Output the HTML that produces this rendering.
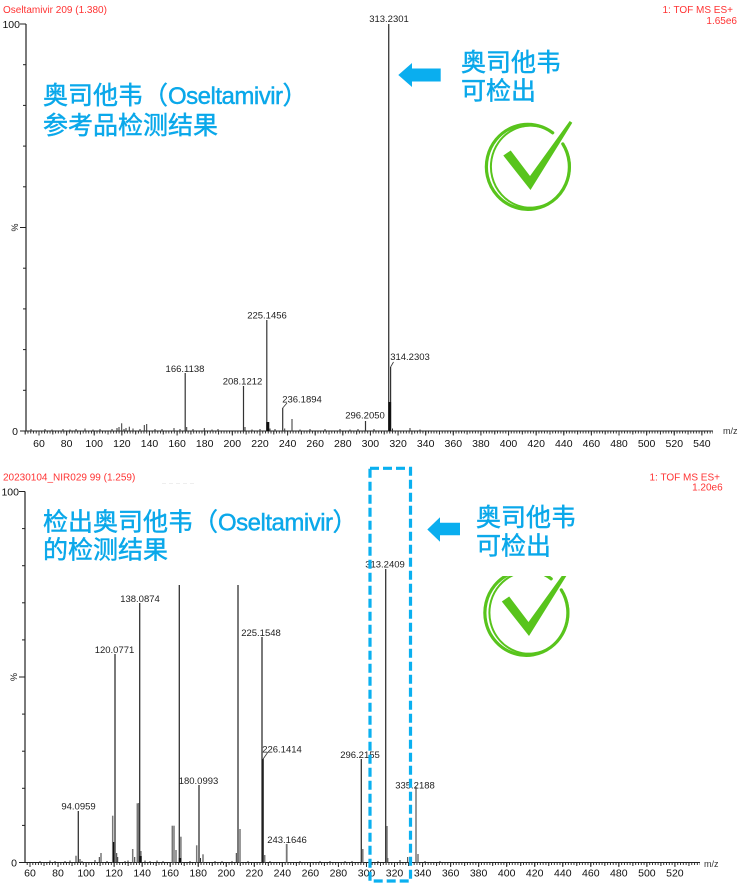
<!DOCTYPE html>
<html><head><meta charset="utf-8">
<style>html,body{margin:0;padding:0;background:#fff}svg{display:block}</style>
</head><body>
<svg width="739" height="883" viewBox="0 0 739 883" xmlns="http://www.w3.org/2000/svg">
<rect width="739" height="883" fill="#fff"/>
<defs>
<clipPath id="clipB"><rect x="0" y="576" width="739" height="307"/></clipPath>
</defs>

<!-- ================= TOP CHART ================= -->
<g font-family="'Liberation Sans', Arial, sans-serif">
<text x="3" y="13" font-size="10" fill="#f33">Oseltamivir 209 (1.380)</text>
<text x="733" y="13" font-size="10" fill="#f33" text-anchor="end">1: TOF MS ES+</text>
<text x="737" y="24" font-size="10" fill="#f33" text-anchor="end">1.65e6</text>

<!-- y axis -->
<line x1="26" y1="24" x2="26" y2="431.5" stroke="#222" stroke-width="1.2"/>
<g stroke="#222" stroke-width="1">
<line x1="20" y1="24" x2="26" y2="24"/>
<line x1="23" y1="64.7" x2="26" y2="64.7"/>
<line x1="23" y1="105.4" x2="26" y2="105.4"/>
<line x1="23" y1="146.1" x2="26" y2="146.1"/>
<line x1="23" y1="186.8" x2="26" y2="186.8"/>
<line x1="20" y1="227.5" x2="26" y2="227.5"/>
<line x1="23" y1="268.2" x2="26" y2="268.2"/>
<line x1="23" y1="308.9" x2="26" y2="308.9"/>
<line x1="23" y1="349.6" x2="26" y2="349.6"/>
<line x1="23" y1="390.3" x2="26" y2="390.3"/>
<line x1="20" y1="431" x2="26" y2="431"/>
</g>
<text x="20" y="28" font-size="10.5" fill="#111" text-anchor="end">100</text>
<text x="18" y="435" font-size="10.5" fill="#111" text-anchor="end">0</text>
<text x="0" y="0" font-size="9" fill="#111" text-anchor="middle" transform="translate(18,227.5) rotate(-90)">%</text>

<!-- x axis -->
<line x1="26" y1="431" x2="713" y2="431" stroke="#222" stroke-width="1"/>
<line x1="24.69" y1="432.5" x2="713" y2="432.5" stroke="#333" stroke-width="2" stroke-dasharray="1 1.762"/>
<line x1="24.69" y1="433" x2="713" y2="433" stroke="#333" stroke-width="3" stroke-dasharray="1 12.81"/>
<line x1="38.5" y1="433.5" x2="713" y2="433.5" stroke="#333" stroke-width="4" stroke-dasharray="1 26.62"/>
<text x="723" y="434" font-size="9" fill="#333">m/z</text>
<g font-size="10.5" fill="#111" text-anchor="middle">
<text x="39" y="447">60</text><text x="66.6" y="447">80</text><text x="94.2" y="447">100</text>
<text x="121.9" y="447">120</text><text x="149.5" y="447">140</text><text x="177.1" y="447">160</text>
<text x="204.7" y="447">180</text><text x="232.3" y="447">200</text><text x="260" y="447">220</text>
<text x="287.6" y="447">240</text><text x="315.2" y="447">260</text><text x="342.8" y="447">280</text>
<text x="370.4" y="447">300</text><text x="398.1" y="447">320</text><text x="425.7" y="447">340</text>
<text x="453.3" y="447">360</text><text x="480.9" y="447">380</text><text x="508.5" y="447">400</text>
<text x="536.2" y="447">420</text><text x="563.8" y="447">440</text><text x="591.4" y="447">460</text>
<text x="619" y="447">480</text><text x="646.6" y="447">500</text><text x="674.3" y="447">520</text>
<text x="701.9" y="447">540</text>
</g>

<!-- noise peaks top -->
<g stroke="#333" stroke-width="1">
<line x1="31" y1="431" x2="31" y2="429"/><line x1="45" y1="431" x2="45" y2="429"/>
<line x1="52" y1="431" x2="52" y2="429.5"/><line x1="63" y1="431" x2="63" y2="429"/>
<line x1="70" y1="431" x2="70" y2="429.5"/><line x1="76" y1="431" x2="76" y2="429"/>
<line x1="85" y1="431" x2="85" y2="428.5"/><line x1="93" y1="431" x2="93" y2="429.5"/>
<line x1="100" y1="431" x2="100" y2="429"/><line x1="112" y1="431" x2="112" y2="429"/>
<line x1="117" y1="431" x2="117" y2="428"/><line x1="119" y1="431" x2="119" y2="427"/>
<line x1="121.7" y1="431" x2="121.7" y2="423.3"/><line x1="124" y1="431" x2="124" y2="429"/>
<line x1="126" y1="431" x2="126" y2="428"/><line x1="129.3" y1="431" x2="129.3" y2="426.7"/>
<line x1="133" y1="431" x2="133" y2="428.5"/><line x1="140" y1="431" x2="140" y2="429"/>
<line x1="144.3" y1="431" x2="144.3" y2="425"/><line x1="146.7" y1="431" x2="146.7" y2="424"/>
<line x1="155" y1="431" x2="155" y2="429"/><line x1="162" y1="431" x2="162" y2="429"/>
<line x1="174" y1="431" x2="174" y2="428"/><line x1="180" y1="431" x2="180" y2="429"/>
<line x1="186.7" y1="431" x2="186.7" y2="427"/><line x1="193" y1="431" x2="193" y2="429"/>
<line x1="204.3" y1="431" x2="204.3" y2="428"/><line x1="212" y1="431" x2="212" y2="429.5"/>
<line x1="218" y1="431" x2="218" y2="429"/><line x1="245" y1="431" x2="245" y2="427"/>
<line x1="252" y1="431" x2="252" y2="429.5"/><line x1="260" y1="431" x2="260" y2="429"/>
<line x1="270" y1="431" x2="270" y2="428.5"/><line x1="275" y1="431" x2="275" y2="429"/>
<line x1="284.7" y1="431" x2="284.7" y2="428.5"/><line x1="292" y1="431" x2="292" y2="419"/>
<line x1="300" y1="431" x2="300" y2="429.5"/><line x1="310" y1="431" x2="310" y2="429"/>
<line x1="325" y1="431" x2="325" y2="429"/><line x1="340" y1="431" x2="340" y2="429"/>
<line x1="350" y1="431" x2="350" y2="429.5"/><line x1="358" y1="431" x2="358" y2="429"/>
<line x1="374" y1="431" x2="374" y2="429"/><line x1="392.5" y1="431" x2="392.5" y2="428.5"/>
<line x1="410" y1="431" x2="410" y2="428"/><line x1="420" y1="431" x2="420" y2="429.5"/>
</g>

<!-- main peaks top -->
<g stroke="#333" stroke-width="1.2">
<line x1="185.2" y1="431" x2="185.2" y2="373"/>
<line x1="243.5" y1="431" x2="243.5" y2="386"/>
<line x1="266.8" y1="431" x2="266.8" y2="320"/>
<line x1="282.7" y1="431" x2="282.7" y2="408"/>
<line x1="365.5" y1="431" x2="365.5" y2="421"/>
<line x1="388.7" y1="431" x2="388.7" y2="24" stroke="#444" stroke-width="1.4"/>
<line x1="390.6" y1="431" x2="390.6" y2="367"/>
<line x1="282.7" y1="408" x2="287" y2="403" stroke-width="0.8"/>
<line x1="390.6" y1="367" x2="393.5" y2="362" stroke-width="0.8"/>
</g>
<rect x="266.3" y="422" width="3" height="9" fill="#111"/>
<rect x="388.5" y="402" width="2.6" height="29" fill="#111"/>

<g font-size="9.5" fill="#222" text-anchor="middle">
<text x="389" y="22">313.2301</text>
<text x="410" y="360">314.2303</text>
<text x="365" y="418.5">296.2050</text>
<text x="302" y="402.5">236.1894</text>
<text x="267" y="318.5">225.1456</text>
<text x="242.5" y="384.5">208.1212</text>
<text x="185" y="372">166.1138</text>
</g>
</g>

<!-- top annotations -->
<g font-family="'Liberation Sans', 'Noto Sans CJK SC', sans-serif" fill="#0aa8ea" stroke="#0aa8ea" stroke-width="0.45" font-size="25">
<text x="43" y="104">奥司他韦（<tspan font-size="24" letter-spacing="-0.5">Oseltamivir</tspan>）</text>
<text x="43" y="134">参考品检测结果</text>
<text x="461" y="71">奥司他韦</text>
<text x="461" y="99.5">可检出</text>
</g>
<polygon fill="#0aaeef" points="398.3,75 412,63 412,68.5 440.7,68.5 440.7,81.5 412,81.5 412,87"/>

<!-- top check -->
<g fill="none" stroke="#58c41c" stroke-linecap="round">
<path d="M562.8 143.9 A41.5 42.5 0 1 1 552.7 132.8" stroke-width="3.2"/>
<path d="M566.5 150 A39.5 41 0 1 1 549 130.5" stroke-width="2"/>
</g>
<polygon fill="#58c41c" points="503.3,155.5 530.5,190 572.3,122.8 569.7,121 530,176 510.7,150.5"/>

<!-- ================= BOTTOM CHART ================= -->
<g font-family="'Liberation Sans', Arial, sans-serif">
<text x="3" y="480.5" font-size="10" fill="#f33">20230104_NIR029 99 (1.259)</text>
<text x="720" y="480.5" font-size="10" fill="#f33" text-anchor="end">1: TOF MS ES+</text>
<text x="722.7" y="490.5" font-size="10" fill="#f33" text-anchor="end">1.20e6</text>
<line x1="162" y1="483.5" x2="197" y2="483.5" stroke="#eee" stroke-width="1" stroke-dasharray="4 3"/>

<line x1="25" y1="491.5" x2="25" y2="863" stroke="#222" stroke-width="1.2"/>
<g stroke="#222" stroke-width="1">
<line x1="19" y1="491.5" x2="25" y2="491.5"/>
<line x1="22" y1="528.6" x2="25" y2="528.6"/>
<line x1="22" y1="565.7" x2="25" y2="565.7"/>
<line x1="22" y1="602.8" x2="25" y2="602.8"/>
<line x1="22" y1="639.9" x2="25" y2="639.9"/>
<line x1="19" y1="677" x2="25" y2="677"/>
<line x1="22" y1="714.1" x2="25" y2="714.1"/>
<line x1="22" y1="751.2" x2="25" y2="751.2"/>
<line x1="22" y1="788.3" x2="25" y2="788.3"/>
<line x1="22" y1="825.4" x2="25" y2="825.4"/>
<line x1="19" y1="862.5" x2="25" y2="862.5"/>
</g>
<text x="19" y="495.5" font-size="10.5" fill="#111" text-anchor="end">100</text>
<text x="17" y="866.5" font-size="10.5" fill="#111" text-anchor="end">0</text>
<text x="0" y="0" font-size="9" fill="#111" text-anchor="middle" transform="translate(17,677) rotate(-90)">%</text>

<line x1="25" y1="862.5" x2="700" y2="862.5" stroke="#222" stroke-width="1"/>
<line x1="26.7" y1="864" x2="700" y2="864" stroke="#333" stroke-width="2" stroke-dasharray="1 1.804"/>
<line x1="29.5" y1="864.5" x2="700" y2="864.5" stroke="#333" stroke-width="3" stroke-dasharray="1 13.02"/>
<line x1="29.5" y1="865" x2="700" y2="865" stroke="#333" stroke-width="4" stroke-dasharray="1 27.04"/>
<text x="704" y="867" font-size="9" fill="#333">m/z</text>
<g font-size="10.5" fill="#111" text-anchor="middle">
<text x="30" y="876.5">60</text><text x="58" y="876.5">80</text><text x="86.1" y="876.5">100</text>
<text x="114.1" y="876.5">120</text><text x="142.2" y="876.5">140</text><text x="170.2" y="876.5">160</text>
<text x="198.2" y="876.5">180</text><text x="226.3" y="876.5">200</text><text x="254.3" y="876.5">220</text>
<text x="282.4" y="876.5">240</text><text x="310.4" y="876.5">260</text><text x="338.4" y="876.5">280</text>
<text x="366.5" y="876.5">300</text><text x="394.5" y="876.5">320</text><text x="422.6" y="876.5">340</text>
<text x="450.6" y="876.5">360</text><text x="478.6" y="876.5">380</text><text x="506.7" y="876.5">400</text>
<text x="534.7" y="876.5">420</text><text x="562.8" y="876.5">440</text><text x="590.8" y="876.5">460</text>
<text x="618.8" y="876.5">480</text><text x="646.9" y="876.5">500</text><text x="674.9" y="876.5">520</text>
</g>

<!-- noise bottom -->
<g stroke="#333" stroke-width="1">
<line x1="40" y1="862.5" x2="40" y2="861"/><line x1="50" y1="862.5" x2="50" y2="860.5"/>
<line x1="55" y1="862.5" x2="55" y2="861"/><line x1="65" y1="862.5" x2="65" y2="861"/>
<line x1="70" y1="862.5" x2="70" y2="860.5"/><line x1="82" y1="862.5" x2="82" y2="861"/>
<line x1="95" y1="862.5" x2="95" y2="860"/><line x1="107" y1="862.5" x2="107" y2="861"/>
<line x1="125" y1="862.5" x2="125" y2="861"/><line x1="128" y1="862.5" x2="128" y2="860.5"/>
<line x1="145" y1="862.5" x2="145" y2="860.5"/><line x1="150" y1="862.5" x2="150" y2="861"/>
<line x1="157" y1="862.5" x2="157" y2="860.5"/><line x1="163" y1="862.5" x2="163" y2="861"/>
<line x1="190" y1="862.5" x2="190" y2="861"/><line x1="215" y1="862.5" x2="215" y2="861"/>
<line x1="222" y1="862.5" x2="222" y2="861"/><line x1="232" y1="862.5" x2="232" y2="861"/>
<line x1="248" y1="862.5" x2="248" y2="861"/><line x1="270" y1="862.5" x2="270" y2="861"/>
<line x1="300" y1="862.5" x2="300" y2="861"/><line x1="320" y1="862.5" x2="320" y2="861"/>
<line x1="330" y1="862.5" x2="330" y2="861"/><line x1="345" y1="862.5" x2="345" y2="861"/>
<line x1="352" y1="862.5" x2="352" y2="861"/><line x1="378" y1="862.5" x2="378" y2="861"/>
<line x1="400" y1="862.5" x2="400" y2="860"/><line x1="425" y1="862.5" x2="425" y2="861"/>
<line x1="440" y1="862.5" x2="440" y2="861"/>
<line x1="76" y1="862.5" x2="76" y2="855.7"/><line x1="80" y1="862.5" x2="80" y2="859"/>
<line x1="99.3" y1="862.5" x2="99.3" y2="857"/><line x1="101" y1="862.5" x2="101" y2="853"/>
<line x1="116.7" y1="862.5" x2="116.7" y2="853"/><line x1="117.7" y1="862.5" x2="117.7" y2="857"/>
<line x1="134.7" y1="862.5" x2="134.7" y2="857"/><line x1="176" y1="862.5" x2="176" y2="850"/>
<line x1="200.5" y1="862.5" x2="200.5" y2="858"/><line x1="236.3" y1="862.5" x2="236.3" y2="853"/>
<line x1="387.8" y1="862.5" x2="387.8" y2="858"/><line x1="407.7" y1="862.5" x2="407.7" y2="857"/>
</g>
<!-- gray secondary peaks -->
<g stroke="#777" stroke-width="1.5">
<line x1="112.7" y1="862.5" x2="112.7" y2="815.7"/>
<line x1="132.7" y1="862.5" x2="132.7" y2="849"/>
<line x1="137.3" y1="862.5" x2="137.3" y2="803.3"/>
<line x1="140.9" y1="862.5" x2="140.9" y2="851"/>
<line x1="172.3" y1="862.5" x2="172.3" y2="825.7"/>
<line x1="174" y1="862.5" x2="174" y2="825.7"/>
<line x1="180.9" y1="862.5" x2="180.9" y2="836.7"/>
<line x1="196.7" y1="862.5" x2="196.7" y2="845.3"/>
<line x1="203" y1="862.5" x2="203" y2="854.3"/>
<line x1="240" y1="862.5" x2="240" y2="829"/>
<line x1="264.7" y1="862.5" x2="264.7" y2="855"/>
<line x1="286.7" y1="862.5" x2="286.7" y2="844" stroke-width="1.8"/>
<line x1="362.8" y1="862.5" x2="362.8" y2="849"/>
<line x1="387" y1="862.5" x2="387" y2="826"/>
<line x1="416" y1="862.5" x2="416" y2="787"/>
<line x1="418" y1="862.5" x2="418" y2="854"/>
</g>
<!-- main peaks bottom -->
<g stroke="#333" stroke-width="1.3">
<line x1="78.3" y1="862.5" x2="78.3" y2="811"/>
<line x1="113.6" y1="862.5" x2="113.6" y2="842" stroke="#111"/>
<line x1="115" y1="862.5" x2="115" y2="654"/>
<line x1="139" y1="862.5" x2="139" y2="803"/>
<line x1="139.7" y1="862.5" x2="139.7" y2="603"/>
<line x1="179.3" y1="862.5" x2="179.3" y2="585"/>
<line x1="199" y1="862.5" x2="199" y2="785"/>
<line x1="238" y1="862.5" x2="238" y2="585"/>
<line x1="262" y1="862.5" x2="262" y2="637"/>
<line x1="263.1" y1="862.5" x2="263.1" y2="759" stroke="#111"/>
<line x1="361.3" y1="862.5" x2="361.3" y2="759"/>
<line x1="385.7" y1="862.5" x2="385.7" y2="569"/>
<line x1="263.1" y1="759" x2="268" y2="752" stroke-width="0.8"/>
</g>
<rect x="139.3" y="856" width="2.4" height="6.5" fill="#111"/>
<rect x="178.8" y="858" width="2.4" height="4.5" fill="#111"/>

<g font-size="9.5" fill="#222" text-anchor="middle">
<text x="385" y="567.5">313.2409</text>
<text x="415" y="788.4">335.2188</text>
<text x="360" y="758">296.2155</text>
<text x="282" y="752.7">226.1414</text>
<text x="261" y="636">225.1548</text>
<text x="287" y="843">243.1646</text>
<text x="198.5" y="784">180.0993</text>
<text x="140" y="602">138.0874</text>
<text x="114.5" y="653">120.0771</text>
<text x="78.5" y="809.5">94.0959</text>
</g>
</g>

<!-- dashed highlight -->
<rect x="370" y="468.3" width="40.5" height="412.7" fill="none" stroke="#0ab0f0" stroke-width="3.2" stroke-dasharray="9 4"/>

<!-- bottom annotations -->
<g font-family="'Liberation Sans', 'Noto Sans CJK SC', sans-serif" fill="#0aa8ea" stroke="#0aa8ea" stroke-width="0.45" font-size="25">
<text x="43" y="530.5">检出奥司他韦（<tspan font-size="24" letter-spacing="-0.5">Oseltamivir</tspan>）</text>
<text x="43" y="558.5">的检测结果</text>
<text x="476" y="526">奥司他韦</text>
<text x="476" y="554.5">可检出</text>
</g>
<polygon fill="#0aaeef" points="427.3,529.5 440,517.3 440,522.7 460,522.7 460,535.3 440,535.3 440,541.7"/>

<!-- bottom check -->
<g clip-path="url(#clipB)">
<g transform="translate(-1.5,446)">
<g fill="none" stroke="#58c41c" stroke-linecap="round">
<path d="M562.8 143.9 A41.5 42.5 0 1 1 552.7 132.8" stroke-width="3.2"/>
<path d="M566.5 150 A39.5 41 0 1 1 549 130.5" stroke-width="2"/>
</g>
<polygon fill="#58c41c" points="503.3,155.5 530.5,190 572.3,122.8 569.7,121 530,176 510.7,150.5"/>
</g>
</g>
</svg>
</body></html>
